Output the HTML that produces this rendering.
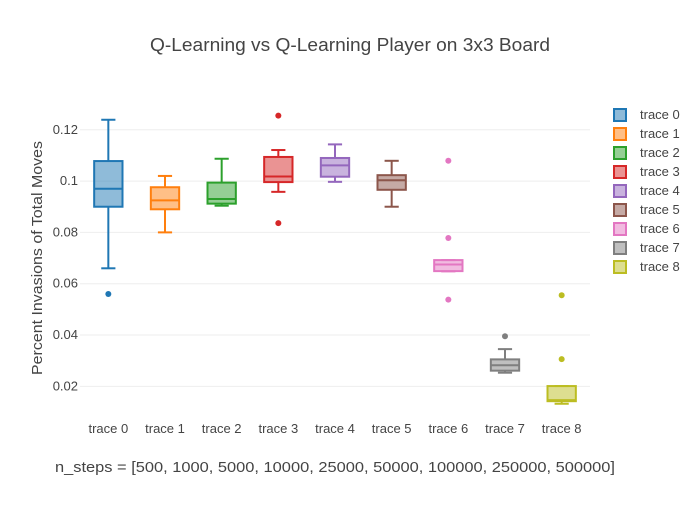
<!DOCTYPE html>
<html><head><meta charset="utf-8"><style>
body{margin:0;background:#fff}
svg text{font-family:"Liberation Sans",sans-serif;fill:#444}
</style></head><body>
<svg id="c" width="700" height="500" xmlns="http://www.w3.org/2000/svg">
<rect width="700" height="500" fill="#fff"/>
<text x="350" y="51" text-anchor="middle" font-size="18" textLength="400" lengthAdjust="spacingAndGlyphs">Q-Learning vs Q-Learning Player on 3x3 Board</text>
<text x="335" y="472" text-anchor="middle" font-size="14.5" textLength="560" lengthAdjust="spacingAndGlyphs">n_steps = [500, 1000, 5000, 10000, 25000, 50000, 100000, 250000, 500000]</text>
<text transform="translate(42,258) rotate(-90)" text-anchor="middle" font-size="14.5" textLength="234" lengthAdjust="spacingAndGlyphs">Percent Invasions of Total Moves</text>
<g id="grid"></g><g id="boxes"></g><g id="legend"></g>
</svg>
<script>
const categories=["trace 0","trace 1","trace 2","trace 3","trace 4","trace 5","trace 6","trace 7","trace 8"];
const lowerFence=[0.066,0.080,0.0904,0.0958,0.0997,0.0900,0.0648,0.0253,0.0132];
const q1=[0.0900,0.0890,0.0912,0.0996,0.1017,0.0966,0.0649,0.0261,0.0142];
const median=[0.0970,0.0925,0.0930,0.1018,0.1061,0.1003,0.0675,0.0282,0.0146];
const q3=[0.1078,0.0976,0.0994,0.1094,0.1090,0.1023,0.0692,0.0305,0.0201];
const upperFence=[0.1239,0.1020,0.1087,0.1121,0.1143,0.1079,0.0692,0.0345,0.0201];
const outliers=[[0.056],[],[],[0.1255,0.0836],[],[],[0.1079,0.0778,0.0538],[0.0395],[0.0555,0.0306]];
const yTicks=[0.02,0.04,0.06,0.08,0.1,0.12];
const yTickLabels=["0.02","0.04","0.06","0.08","0.1","0.12"];
const colors=["#1f77b4","#ff7f0e","#2ca02c","#d62728","#9467bd","#8c564b","#e377c2","#7f7f7f","#bcbd22"];
const NS="http://www.w3.org/2000/svg";
const X0=80,X1=590,Y0=100,Y1=420,ymin=0.00687,ymax=0.1316;
const bw=(X1-X0)/categories.length;
const xs=i=>X0+bw*(i+0.5);
const ys=v=>Y1-(v-ymin)/(ymax-ymin)*(Y1-Y0);
function mk(t,a,p){const e=document.createElementNS(NS,t);for(const k in a)e.setAttribute(k,a[k]);p.appendChild(e);return e;}
const grid=document.getElementById('grid'),boxes=document.getElementById('boxes'),leg=document.getElementById('legend');
yTicks.forEach((v,i)=>{
  const l=mk('line',{x1:X0,x2:X1,y1:ys(v),y2:ys(v),stroke:'#eee','stroke-width':1},grid);
  
  
  const t=mk('text',{x:X0-2,y:ys(v)+4,'text-anchor':'end','font-size':13},grid);
  t.textContent=yTickLabels[i];
  
  
});
categories.forEach((c,i)=>{
  const col=colors[i],x=xs(i),hw=bw*0.25,cw=hw/2;
  const g=mk('g',{},boxes);
  
  
  const s={stroke:col,'stroke-width':2,fill:'none'};
  mk('line',Object.assign({x1:x,x2:x,y1:ys(upperFence[i]),y2:ys(q3[i])},s),g);
  mk('line',Object.assign({x1:x,x2:x,y1:ys(q1[i]),y2:ys(lowerFence[i])},s),g);
  mk('line',Object.assign({x1:x-cw,x2:x+cw,y1:ys(upperFence[i]),y2:ys(upperFence[i])},s),g);
  mk('line',Object.assign({x1:x-cw,x2:x+cw,y1:ys(lowerFence[i]),y2:ys(lowerFence[i])},s),g);
  mk('rect',{x:x-hw,y:ys(q3[i]),width:2*hw,height:ys(q1[i])-ys(q3[i]),fill:col,'fill-opacity':0.5,stroke:col,'stroke-width':2},g);
  mk('line',Object.assign({x1:x-hw,x2:x+hw,y1:ys(median[i]),y2:ys(median[i])},s),g);
  outliers[i].forEach(v=>{
    const p=mk('circle',{cx:x,cy:ys(v),r:3,fill:col},g);
    
    
  });
  const t=mk('text',{x:x,y:433,'text-anchor':'middle','font-size':13},grid);
  t.textContent=c;
  
  
  const ly=115+i*19;
  const lg=mk('g',{},leg);
  
  
  mk('rect',{x:614,y:ly-6,width:12,height:12,fill:col,'fill-opacity':0.5,stroke:col,'stroke-width':2},lg);
  const lt=mk('text',{x:640,y:ly+4,'font-size':13},lg);
  lt.textContent=c;
});
</script>
</body></html>
